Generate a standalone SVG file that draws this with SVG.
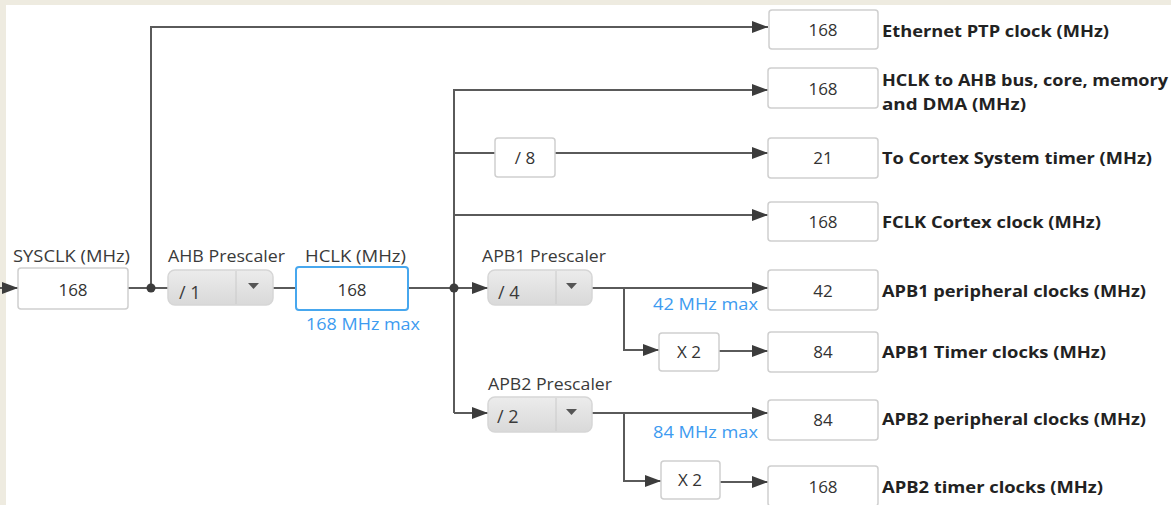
<svg xmlns="http://www.w3.org/2000/svg" width="1171" height="505" viewBox="0 0 1171 505">
<defs>
<marker id="arr" viewBox="0 0 16 12" markerWidth="16" markerHeight="12" refX="16" refY="6" orient="auto" markerUnits="userSpaceOnUse">
<path d="M0,0 L16,6 L0,12 Z" fill="#3c3c3c"/>
</marker>
<linearGradient id="pg" x1="0" y1="0" x2="0" y2="1">
<stop offset="0" stop-color="#ececec"/>
<stop offset="1" stop-color="#d9d9d9"/>
</linearGradient>
</defs>
<style>
.box{fill:#fff;stroke:#cfcfcf;stroke-width:1.5}
.hbox{fill:#fff;stroke:#47a7ee;stroke-width:2}
.pre{fill:url(#pg);stroke:#d6d6d6;stroke-width:1.5}
.div{stroke:#cacaca;stroke-width:1}
.ln{fill:none;stroke:#5a5a5a;stroke-width:2}
.num{font-family:"Open Sans","Noto Sans",sans-serif;font-size:17px;fill:#333;text-anchor:middle}
.lbl{font-family:"Open Sans","Noto Sans",sans-serif;font-size:16px;fill:#3a3a3a}
.pv{font-family:"Open Sans","Noto Sans",sans-serif;font-size:18px;fill:#3a3a3a}
.blue{font-family:"Open Sans","Noto Sans",sans-serif;font-size:16px;fill:#3d9bf0}
.bold{font-family:"Open Sans","Noto Sans",sans-serif;font-size:16px;font-weight:bold;fill:#222}
.tri{fill:#555}
</style>
<rect x="0" y="0" width="1171" height="505" fill="#eeebe0"/>
<rect x="6" y="5" width="1165" height="500" fill="#fff"/>

<g id="connectors">
<path class="ln" d="M0,288 L18,288" marker-end="url(#arr)"/>
<path class="ln" d="M128,288 L168,288"/>
<path class="ln" d="M151,288 L151,27 L768,27" marker-end="url(#arr)"/>
<path class="ln" d="M273,288 L296,288"/>
<path class="ln" d="M408,288 L488,288" marker-end="url(#arr)"/>
<path class="ln" d="M454,413 L454,90 L768,90" marker-end="url(#arr)"/>
<path class="ln" d="M454,153 L495,153"/>
<path class="ln" d="M555,153 L768,153" marker-end="url(#arr)"/>
<path class="ln" d="M454,215 L768,215" marker-end="url(#arr)"/>
<path class="ln" d="M454,413 L488,413" marker-end="url(#arr)"/>
<path class="ln" d="M592,288 L768,288" marker-end="url(#arr)"/>
<path class="ln" d="M624,288 L624,350 L659,350" marker-end="url(#arr)"/>
<path class="ln" d="M719,351 L768,351" marker-end="url(#arr)"/>
<path class="ln" d="M592,413 L768,413" marker-end="url(#arr)"/>
<path class="ln" d="M624,413 L624,481 L661,481" marker-end="url(#arr)"/>
<path class="ln" d="M720,482 L768,482" marker-end="url(#arr)"/>
<circle cx="151" cy="288" r="4.5" fill="#3c3c3c"/>
<circle cx="454" cy="288" r="4.5" fill="#3c3c3c"/>
</g>

<g id="sysclk">
<text class="lbl" x="13" y="262" textLength="117" lengthAdjust="spacingAndGlyphs">SYSCLK (MHz)</text>
<rect class="box" x="18" y="268" width="110" height="41" rx="3"/>
<text class="num" x="73" y="296">168</text>
</g>

<g id="ahb-prescaler">
<text class="lbl" x="168" y="262" textLength="117" lengthAdjust="spacingAndGlyphs">AHB Prescaler</text>
<rect class="pre" x="168" y="270" width="105" height="35" rx="7"/>
<line class="div" x1="236" y1="271" x2="236" y2="304"/>
<text class="pv" x="179" y="299">/ 1</text>
<path class="tri" d="M248,283 L259,283 L253.5,289 Z"/>
</g>

<g id="hclk">
<text class="lbl" x="305" y="262" textLength="101" lengthAdjust="spacingAndGlyphs">HCLK (MHz)</text>
<rect class="hbox" x="296" y="267" width="112" height="43" rx="3"/>
<text class="num" x="352" y="296">168</text>
<text class="blue" x="306" y="330" textLength="114" lengthAdjust="spacingAndGlyphs">168 MHz max</text>
</g>

<g id="div8">
<rect class="box" x="495" y="138" width="60" height="39" rx="3"/>
<text class="num" x="525" y="164">/ 8</text>
</g>

<g id="apb1-prescaler">
<text class="lbl" x="482" y="262" textLength="124" lengthAdjust="spacingAndGlyphs">APB1 Prescaler</text>
<rect class="pre" x="488" y="270" width="104" height="35" rx="7"/>
<line class="div" x1="556" y1="271" x2="556" y2="304"/>
<text class="pv" x="498" y="299">/ 4</text>
<path class="tri" d="M566,283 L577,283 L571.5,289 Z"/>
<text class="blue" x="653" y="310" textLength="105" lengthAdjust="spacingAndGlyphs">42 MHz max</text>
</g>

<g id="apb1-x2">
<rect class="box" x="659" y="333" width="60" height="38" rx="3"/>
<text class="num" x="689" y="358">X 2</text>
</g>

<g id="apb2-prescaler">
<text class="lbl" x="488" y="390" textLength="124" lengthAdjust="spacingAndGlyphs">APB2 Prescaler</text>
<rect class="pre" x="488" y="397" width="104" height="35" rx="7"/>
<line class="div" x1="556" y1="398" x2="556" y2="431"/>
<text class="pv" x="497" y="423">/ 2</text>
<path class="tri" d="M566,409 L577,409 L571.5,415 Z"/>
<text class="blue" x="653" y="438" textLength="105" lengthAdjust="spacingAndGlyphs">84 MHz max</text>
</g>

<g id="apb2-x2">
<rect class="box" x="661" y="461" width="59" height="38" rx="3"/>
<text class="num" x="690" y="486">X 2</text>
</g>

<g id="out-eth">
<rect class="box" x="769" y="10" width="109" height="39" rx="3"/>
<text class="num" x="823" y="36">168</text>
<text class="bold" x="882" y="37" textLength="227" lengthAdjust="spacingAndGlyphs">Ethernet PTP clock (MHz)</text>
</g>

<g id="out-hclk">
<rect class="box" x="768" y="68" width="110" height="40" rx="3"/>
<text class="num" x="823" y="95">168</text>
<text class="bold" x="882" y="86" textLength="286" lengthAdjust="spacingAndGlyphs">HCLK to AHB bus, core, memory</text>
<text class="bold" x="882" y="110" textLength="144" lengthAdjust="spacingAndGlyphs">and DMA (MHz)</text>
</g>

<g id="out-systick">
<rect class="box" x="768" y="138" width="110" height="40" rx="3"/>
<text class="num" x="823" y="164">21</text>
<text class="bold" x="882" y="164" textLength="270" lengthAdjust="spacingAndGlyphs">To Cortex System timer (MHz)</text>
</g>

<g id="out-fclk">
<rect class="box" x="768" y="202" width="110" height="39" rx="3"/>
<text class="num" x="823" y="228">168</text>
<text class="bold" x="882" y="228" textLength="219" lengthAdjust="spacingAndGlyphs">FCLK Cortex clock (MHz)</text>
</g>

<g id="out-apb1p">
<rect class="box" x="768" y="270" width="110" height="40" rx="3"/>
<text class="num" x="823" y="297">42</text>
<text class="bold" x="882" y="297" textLength="264" lengthAdjust="spacingAndGlyphs">APB1 peripheral clocks (MHz)</text>
</g>

<g id="out-apb1t">
<rect class="box" x="768" y="332" width="110" height="40" rx="3"/>
<text class="num" x="823" y="358">84</text>
<text class="bold" x="882" y="358" textLength="224" lengthAdjust="spacingAndGlyphs">APB1 Timer clocks (MHz)</text>
</g>

<g id="out-apb2p">
<rect class="box" x="768" y="400" width="110" height="40" rx="3"/>
<text class="num" x="823" y="426">84</text>
<text class="bold" x="882" y="425" textLength="264" lengthAdjust="spacingAndGlyphs">APB2 peripheral clocks (MHz)</text>
</g>

<g id="out-apb2t">
<rect class="box" x="768" y="466" width="110" height="40" rx="3"/>
<text class="num" x="823" y="493">168</text>
<text class="bold" x="882" y="493" textLength="221" lengthAdjust="spacingAndGlyphs">APB2 timer clocks (MHz)</text>
</g>
</svg>
